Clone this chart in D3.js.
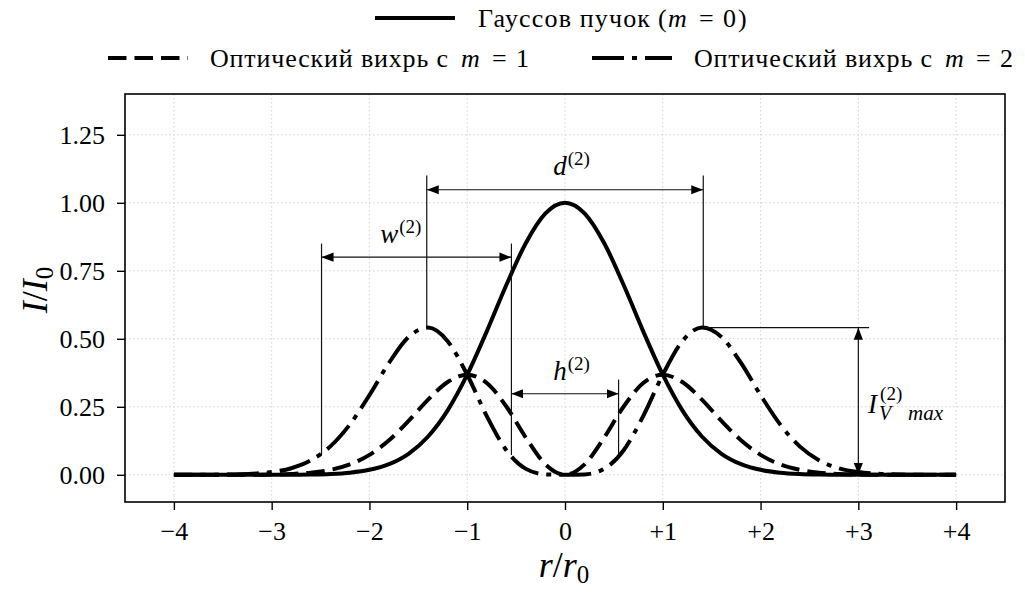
<!DOCTYPE html>
<html>
<head>
<meta charset="utf-8">
<script src="https://cdn.jsdelivr.net/npm/d3@7"></script>
<style>
  body { margin: 0; background: #fff; }
  svg text { font-family: "Liberation Serif", "DejaVu Serif", serif; fill: #000; }
</style>
</head>
<body>
<svg id="chart" width="1025" height="592"></svg>
<script>
// Radial coordinate r/r0
const radius = [-4, -3.8, -3.6, -3.4, -3.2, -3, -2.8, -2.6, -2.4, -2.2, -2, -1.8, -1.6, -1.4, -1.2, -1, -0.8, -0.6, -0.4, -0.2,
  0, 0.2, 0.4, 0.6, 0.8, 1, 1.2, 1.4, 1.6, 1.8, 2, 2.2, 2.4, 2.6, 2.8, 3, 3.2, 3.4, 3.6, 3.8, 4];

// Gaussian beam, m = 0
const gaussBeam = [0, 0, 0, 0, 0, 0.0001, 0.0004, 0.0012, 0.0032, 0.0079, 0.0183, 0.0392, 0.0773, 0.1409, 0.2369, 0.3679, 0.5273, 0.6977, 0.8521, 0.9608,
  1, 0.9608, 0.8521, 0.6977, 0.5273, 0.3679, 0.2369, 0.1409, 0.0773, 0.0392, 0.0183, 0.0079, 0.0032, 0.0012, 0.0004, 0.0001, 0, 0, 0, 0, 0];

// Optical vortex, m = 1
const vortexM1 = [0, 0, 0, 0.0001, 0.0004, 0.0011, 0.0031, 0.0078, 0.0182, 0.0382, 0.0733, 0.127, 0.1979, 0.2762, 0.3411, 0.3679, 0.3375, 0.2512, 0.1363, 0.0384,
  0, 0.0384, 0.1363, 0.2512, 0.3375, 0.3679, 0.3411, 0.2762, 0.1979, 0.127, 0.0733, 0.0382, 0.0182, 0.0078, 0.0031, 0.0011, 0.0004, 0.0001, 0, 0, 0];

// Optical vortex, m = 2
const vortexM2 = [0, 0.0001, 0.0004, 0.0013, 0.0037, 0.01, 0.0242, 0.053, 0.1045, 0.1853, 0.2931, 0.4115, 0.5066, 0.5413, 0.4912, 0.3679, 0.216, 0.0904, 0.0218, 0.0015,
  0, 0.0015, 0.0218, 0.0904, 0.216, 0.3679, 0.4912, 0.5413, 0.5066, 0.4115, 0.2931, 0.1853, 0.1045, 0.053, 0.0242, 0.01, 0.0037, 0.0013, 0.0004, 0.0001, 0];

const xTicks = [-4, -3, -2, -1, 0, 1, 2, 3, 4];
const xTickLabels = ["\u22124", "\u22123", "\u22122", "\u22121", "0", "+1", "+2", "+3", "+4"];
const yTicks = [0, 0.25, 0.5, 0.75, 1, 1.25];
const yTickLabels = ["0.00", "0.25", "0.50", "0.75", "1.00", "1.25"];

// Ring parameters of the m = 2 vortex
const ringPeakR = [-1.414, 1.414];        // radius of maximum intensity
const ringPeakI = [0.541];                // maximum intensity
const ringEdgeR = [-2.49, -0.548, 0.548]; // 1/e^2 crossings of the left ring and its mirror
const ringEdgeI = [0.073];                // intensity at those crossings

const svg = d3.select("#chart");
const x = d3.scaleLinear().domain([-4.5, 4.5]).range([125, 1005]);
const y = d3.scaleLinear().domain([-0.1, 1.4]).range([502, 94]);
const serif = '"Liberation Serif", "DejaVu Serif", serif';

// Grid
const grid = svg.append("g")
  .attr("stroke", "#d2d2d2").attr("stroke-width", 1).attr("stroke-dasharray", "1.5,2.5");
grid.selectAll(null).data(xTicks).join("line")
  .attr("x1", d => x(d)).attr("x2", d => x(d)).attr("y1", y(1.4)).attr("y2", y(-0.1));
grid.selectAll(null).data(yTicks).join("line")
  .attr("y1", d => y(d)).attr("y2", d => y(d)).attr("x1", x(-4.5)).attr("x2", x(4.5));

// Axes
function styleAxis(g) {
  g.select(".domain").remove();
  g.attr("font-family", serif).attr("font-size", 26);
  g.selectAll(".tick line").attr("stroke", "#000").attr("stroke-width", 1.4);
}
svg.append("g")
  .attr("transform", `translate(0,${y(-0.1)})`)
  .call(d3.axisBottom(x).tickValues(xTicks).tickFormat((d, i) => xTickLabels[i]).tickSize(8).tickPadding(12))
  .call(styleAxis);
svg.append("g")
  .attr("transform", `translate(${x(-4.5)},0)`)
  .call(d3.axisLeft(y).tickValues(yTicks).tickFormat((d, i) => yTickLabels[i]).tickSize(8).tickPadding(12))
  .call(styleAxis);

// Curves
const line = d3.line().x(d => x(d[0])).y(d => y(d[1])).curve(d3.curveMonotoneX);
const curves = [
  { values: vortexM2, dash: "32,8,5,8" },
  { values: vortexM1, dash: "18.5,8" },
  { values: gaussBeam, dash: null }
];
svg.append("g").selectAll("path").data(curves).join("path")
  .attr("d", c => line(d3.zip(radius, c.values)))
  .attr("fill", "none").attr("stroke", "#000").attr("stroke-width", 4)
  .attr("stroke-dasharray", c => c.dash);

// Arrowhead
const defs = svg.append("defs");
defs.append("marker")
  .attr("id", "head").attr("viewBox", "0 -5 12 10")
  .attr("refX", 12).attr("refY", 0)
  .attr("markerUnits", "userSpaceOnUse")
  .attr("markerWidth", 12).attr("markerHeight", 10)
  .attr("orient", "auto-start-reverse")
  .append("path").attr("d", "M0,-4.6L12,0L0,4.6Z").attr("fill", "#000");

const ann = svg.append("g").attr("stroke", "#111").attr("stroke-width", 1.2).attr("fill", "none");
function seg(x1, y1, x2, y2) {
  return ann.append("line").attr("x1", x(x1)).attr("y1", y(y1)).attr("x2", x(x2)).attr("y2", y(y2));
}
function arrow(x1, y1, x2, y2) {
  return seg(x1, y1, x2, y2).attr("marker-start", "url(#head)").attr("marker-end", "url(#head)");
}

// d: distance between the two intensity maxima
seg(ringPeakR[0], ringPeakI[0], ringPeakR[0], 1.10);
seg(ringPeakR[1], ringPeakI[0], ringPeakR[1], 1.10);
arrow(ringPeakR[0], 1.048, ringPeakR[1], 1.048);

// w: ring width at the 1/e^2 level
seg(ringEdgeR[0], ringEdgeI[0], ringEdgeR[0], 0.85);
seg(ringEdgeR[1], ringEdgeI[0], ringEdgeR[1], 0.85);
arrow(ringEdgeR[0], 0.80, ringEdgeR[1], 0.80);

// h: width of the dark core
seg(ringEdgeR[2], ringEdgeI[0], ringEdgeR[2], 0.35);
arrow(ringEdgeR[1], 0.298, ringEdgeR[2], 0.298);

// I_V max: peak intensity
seg(ringPeakR[1], ringPeakI[0], 3.11, ringPeakI[0]);
arrow(3.0, 0, 3.0, ringPeakI[0]);

// Annotation labels
function supLabel(xv, yv, base) {
  const t = svg.append("text").attr("x", x(xv)).attr("y", y(yv)).attr("font-size", 27);
  t.append("tspan").attr("font-style", "italic").text(base);
  t.append("tspan").attr("font-size", 19).attr("dy", -10).attr("dx", 1).text("(2)");
  return t;
}
supLabel(-0.12, 1.102, "d");
supLabel(-1.89, 0.852, "w");
supLabel(-0.12, 0.349, "h");

const ivX = x(3.1), ivY = y(0.227);
svg.append("text").attr("x", ivX).attr("y", ivY).attr("font-size", 27).attr("font-style", "italic").text("I");
svg.append("text").attr("x", ivX + 12).attr("y", ivY - 13).attr("font-size", 19).text("(2)");
svg.append("text").attr("x", ivX + 11).attr("y", ivY + 7).attr("font-size", 20).attr("font-style", "italic").text("V");
svg.append("text").attr("x", ivX + 40).attr("y", ivY + 7).attr("font-size", 21).attr("font-style", "italic").text("max");

// Axis titles
const xt = svg.append("text").attr("x", 564).attr("y", 577).attr("font-size", 36).attr("text-anchor", "middle");
xt.append("tspan").attr("font-style", "italic").text("r");
xt.append("tspan").text("/");
xt.append("tspan").attr("font-style", "italic").text("r");
xt.append("tspan").attr("font-size", 25).attr("dy", 6).text("0");

const yt = svg.append("text").attr("transform", "translate(47,290) rotate(-90)").attr("font-size", 36).attr("text-anchor", "middle");
yt.append("tspan").attr("font-style", "italic").text("I");
yt.append("tspan").text("/");
yt.append("tspan").attr("font-style", "italic").text("I");
yt.append("tspan").attr("font-size", 25).attr("dy", 6).text("0");

// Frame
svg.append("rect").attr("x", x(-4.5)).attr("y", y(1.4))
  .attr("width", x(4.5) - x(-4.5)).attr("height", y(-0.1) - y(1.4))
  .attr("fill", "none").attr("stroke", "#000").attr("stroke-width", 1.6);

// Legend: sample line, then text pieces laid out at fixed offsets from the text start
const legend = [
  { words: "Гауссов пучок", wordsLen: 172, open: "(", m: "m", eq: "=", val: "0", close: ")", dash: null, lx: 375, ly: 18 },
  { words: "Оптический вихрь с", wordsLen: 238, open: "", m: "m", eq: "=", val: "1", close: "", dash: "18.5,8", lx: 108, ly: 58 },
  { words: "Оптический вихрь с", wordsLen: 238, open: "", m: "m", eq: "=", val: "2", close: "", dash: "32,8,5,8", lx: 592, ly: 58 }
];
const lg = svg.append("g").selectAll("g").data(legend).join("g");
lg.append("line")
  .attr("x1", d => d.lx).attr("x2", d => d.lx + 80).attr("y1", d => d.ly).attr("y2", d => d.ly)
  .attr("stroke", "#000").attr("stroke-width", 4).attr("stroke-dasharray", d => d.dash);
lg.each(function (d) {
  const g = d3.select(this);
  const tx = d.lx + 102 + (d.dash ? 0 : 1);
  const by = d.ly + 9;
  const t = g.append("text").attr("y", by).attr("font-size", 26);
  t.append("tspan").attr("x", tx).attr("textLength", d.wordsLen).attr("lengthAdjust", "spacing").text(d.words);
  let mx = tx + d.wordsLen + 13;
  if (d.open) { t.append("tspan").attr("x", tx + d.wordsLen + 8).text(d.open); mx = tx + d.wordsLen + 18; }
  t.append("tspan").attr("x", mx).attr("font-style", "italic").text(d.m);
  t.append("tspan").attr("x", mx + 31).text(d.eq);
  t.append("tspan").attr("x", mx + 55).text(d.val);
  if (d.close) t.append("tspan").attr("x", mx + 70).text(d.close);
});
</script>
</body>
</html>
